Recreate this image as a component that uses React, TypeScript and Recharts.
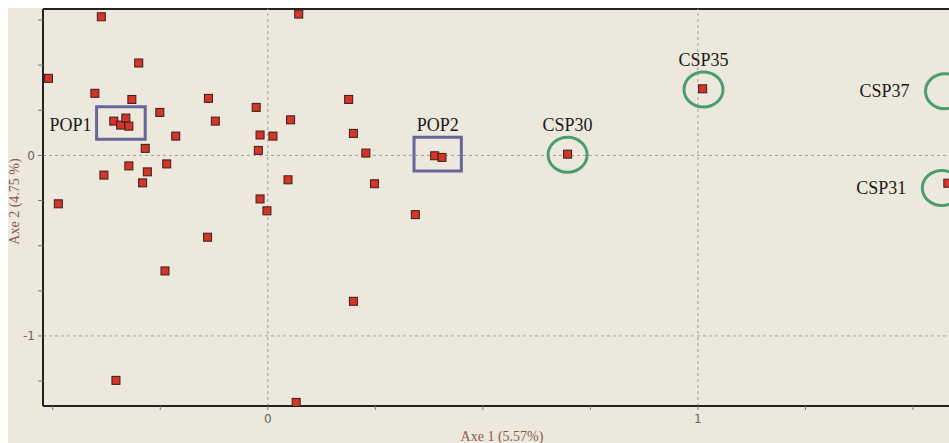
import React from 'react';
import {
  ScatterChart,
  Scatter,
  XAxis,
  YAxis,
  ReferenceLine,
  ReferenceArea,
  ReferenceDot,
} from 'recharts';

// Axe 1 / Axe 2 coordinates of every individual
const axe1Values = [
  -0.387, 0.072, -0.3, -0.51, -0.402, -0.316, -0.138, -0.027, -0.251, -0.358,
  -0.342, -0.33, -0.323, -0.122, 0.053, -0.214, -0.018, 0.012, -0.285, -0.022,
  -0.323, -0.235, -0.381, -0.28, -0.291, 0.047, -0.487, -0.018, -0.002, -0.14,
  -0.239, -0.353, 0.066, 0.188, 0.199, 0.228, 0.248, 0.343, 0.199, 0.388,
  0.405, 0.697, 1.011, 1.581, 1.598,
];
const axe2Values = [
  0.768, 0.783, 0.512, 0.427, 0.344, 0.31, 0.316, 0.266, 0.238, 0.19,
  0.168, 0.207, 0.162, 0.19, 0.197, 0.107, 0.113, 0.107, 0.039, 0.028,
  -0.058, -0.047, -0.109, -0.091, -0.152, -0.135, -0.268, -0.241, -0.307, -0.453,
  -0.64, -1.246, -1.368, 0.31, 0.122, 0.013, -0.157, -0.328, -0.808, -0.002,
  -0.011, 0.007, 0.369, -0.154, 0.356,
];

// Boxed populations
const boxNames = ['POP1', 'POP2'];
const boxX1 = [-0.398, 0.34];
const boxX2 = [-0.285, 0.45];
const boxY1 = [0.089, -0.087];
const boxY2 = [0.269, 0.1];
const boxLabelSide = ['left', 'top'];

// Circled individuals
const circleNames = ['CSP30', 'CSP35', 'CSP37', 'CSP31'];
const circleX = [0.697, 1.013, 1.5744, 1.567];
const circleY = [0.004, 0.365, 0.356, -0.181];
const circleLabelSide = ['top', 'top', 'left', 'left'];

const xDomain = [-0.5226, 1.5837];
const yDomain = [-1.388, 0.811];
const xTicks = [-0.5, -0.25, 0, 0.25, 0.5, 0.75, 1, 1.25, 1.5];
const yTicks = [-1.25, -1, -0.75, -0.5, -0.25, 0, 0.25, 0.5, 0.75];
const xTickLabels = [0, 1];
const yTickLabels = [0, -1];

const points = axe1Values.map((x, i) => ({ x, y: axe2Values[i] }));

const SERIF = '"Liberation Serif", "Times New Roman", serif';
const SANS = '"DejaVu Sans", Verdana, sans-serif';

const SquareDot = (props: any) => {
  const { cx, cy } = props;
  if (cx == null || cy == null) return null;
  return (
    <rect
      x={cx - 4}
      y={cy - 4}
      width={8}
      height={8}
      fill="#d2352a"
      stroke="#3e1c18"
      strokeWidth={1}
    />
  );
};

const makeCircleShape = (name: string, side: string) => (props: any) => {
  const { cx, cy } = props;
  const rx = 19.5;
  const ry = 17.5;
  return (
    <g>
      <ellipse cx={cx} cy={cy} rx={rx} ry={ry} fill="none" stroke="#4a9d6e" strokeWidth={3} />
      {side === 'top' ? (
        <text x={cx} y={cy - ry - 6} textAnchor="middle" fontFamily={SERIF} fontSize={18} fill="#1a1a1a">
          {name}
        </text>
      ) : (
        <text x={cx - rx - 16} y={cy + 6} textAnchor="end" fontFamily={SERIF} fontSize={18} fill="#1a1a1a">
          {name}
        </text>
      )}
    </g>
  );
};

const makeBoxLabel = (name: string, side: string) => (props: any) => {
  const vb = props.viewBox || {};
  const { x, y, width, height } = vb;
  if (side === 'left') {
    return (
      <text x={x - 5} y={y + height / 2 + 8} textAnchor="end" fontFamily={SERIF} fontSize={18} fill="#1a1a1a">
        {name}
      </text>
    );
  }
  return (
    <text x={x + width / 2} y={y - 6} textAnchor="middle" fontFamily={SERIF} fontSize={18} fill="#1a1a1a">
      {name}
    </text>
  );
};

const XTitle = (props: any) => {
  const { x, y, width } = props.viewBox;
  return (
    <text x={x + width / 2 + 6} y={y + 35} textAnchor="middle" fontFamily={SERIF} fontSize={14} fill="#8a5a4c">
      Axe 1 (5.57%)
    </text>
  );
};

const YTitle = (props: any) => {
  const { x, y, height } = props.viewBox;
  const cx = x + 11;
  const cy = y + height / 2 - 6;
  return (
    <text
      x={cx}
      y={cy}
      transform={`rotate(-90 ${cx} ${cy})`}
      textAnchor="middle"
      fontFamily={SERIF}
      fontSize={14}
      fill="#8a5a4c"
    >
      Axe 2 (4.75 %)
    </text>
  );
};

export default function App() {
  return (
    <div
      style={{
        width: 941,
        height: 435,
        padding: '8px 0 0 8px',
        background: '#fff',
        overflow: 'hidden',
      }}
    >
      <style>{'body{margin:0;}'}</style>
      <ScatterChart
        width={941}
        height={435}
        margin={{ top: 1, right: 0, bottom: 0, left: 0 }}
        style={{ backgroundColor: '#ece8dc' }}
      >
        <XAxis
          type="number"
          dataKey="x"
          domain={xDomain}
          allowDataOverflow
          ticks={xTicks}
          interval={0}
          tickFormatter={(v: number) => (xTickLabels.includes(v) ? String(v) : '')}
          height={37}
          axisLine={{ stroke: '#222', strokeWidth: 2 }}
          tickLine={{ stroke: '#777' }}
          tickSize={4}
          tickMargin={4}
          tick={{ fontFamily: SANS, fontSize: 12, fill: '#666' }}
          label={{ content: XTitle }}
        />
        <YAxis
          type="number"
          dataKey="y"
          domain={yDomain}
          allowDataOverflow
          ticks={yTicks}
          interval={0}
          tickFormatter={(v: number) => (yTickLabels.includes(v) ? String(v) : '')}
          width={35}
          axisLine={{ stroke: '#222', strokeWidth: 2 }}
          tickLine={{ stroke: '#777' }}
          tickSize={5}
          tickMargin={3}
          tick={{ fontFamily: SANS, fontSize: 12, fill: '#666' }}
          label={{ content: YTitle }}
        />
        <ReferenceLine y={yDomain[1]} stroke="#222" strokeWidth={2} />
        <ReferenceLine x={0} stroke="#a0a0a0" strokeDasharray="3 3" />
        <ReferenceLine x={1} stroke="#a0a0a0" strokeDasharray="3 3" />
        <ReferenceLine y={0} stroke="#a0a0a0" strokeDasharray="3 3" />
        <ReferenceLine y={-1} stroke="#a0a0a0" strokeDasharray="3 3" />
        {boxNames.map((name, i) => (
          <ReferenceArea
            key={name}
            x1={boxX1[i]}
            x2={boxX2[i]}
            y1={boxY1[i]}
            y2={boxY2[i]}
            fill="none"
            fillOpacity={0}
            stroke="#66669a"
            strokeWidth={3}
            label={{ content: makeBoxLabel(name, boxLabelSide[i]) }}
          />
        ))}
        <Scatter data={points} shape={SquareDot} isAnimationActive={false} />
        {circleNames.map((name, i) => (
          <ReferenceDot
            key={name}
            x={circleX[i]}
            y={circleY[i]}
            r={18}
            ifOverflow="visible"
            shape={makeCircleShape(name, circleLabelSide[i])}
          />
        ))}
      </ScatterChart>
    </div>
  );
}
